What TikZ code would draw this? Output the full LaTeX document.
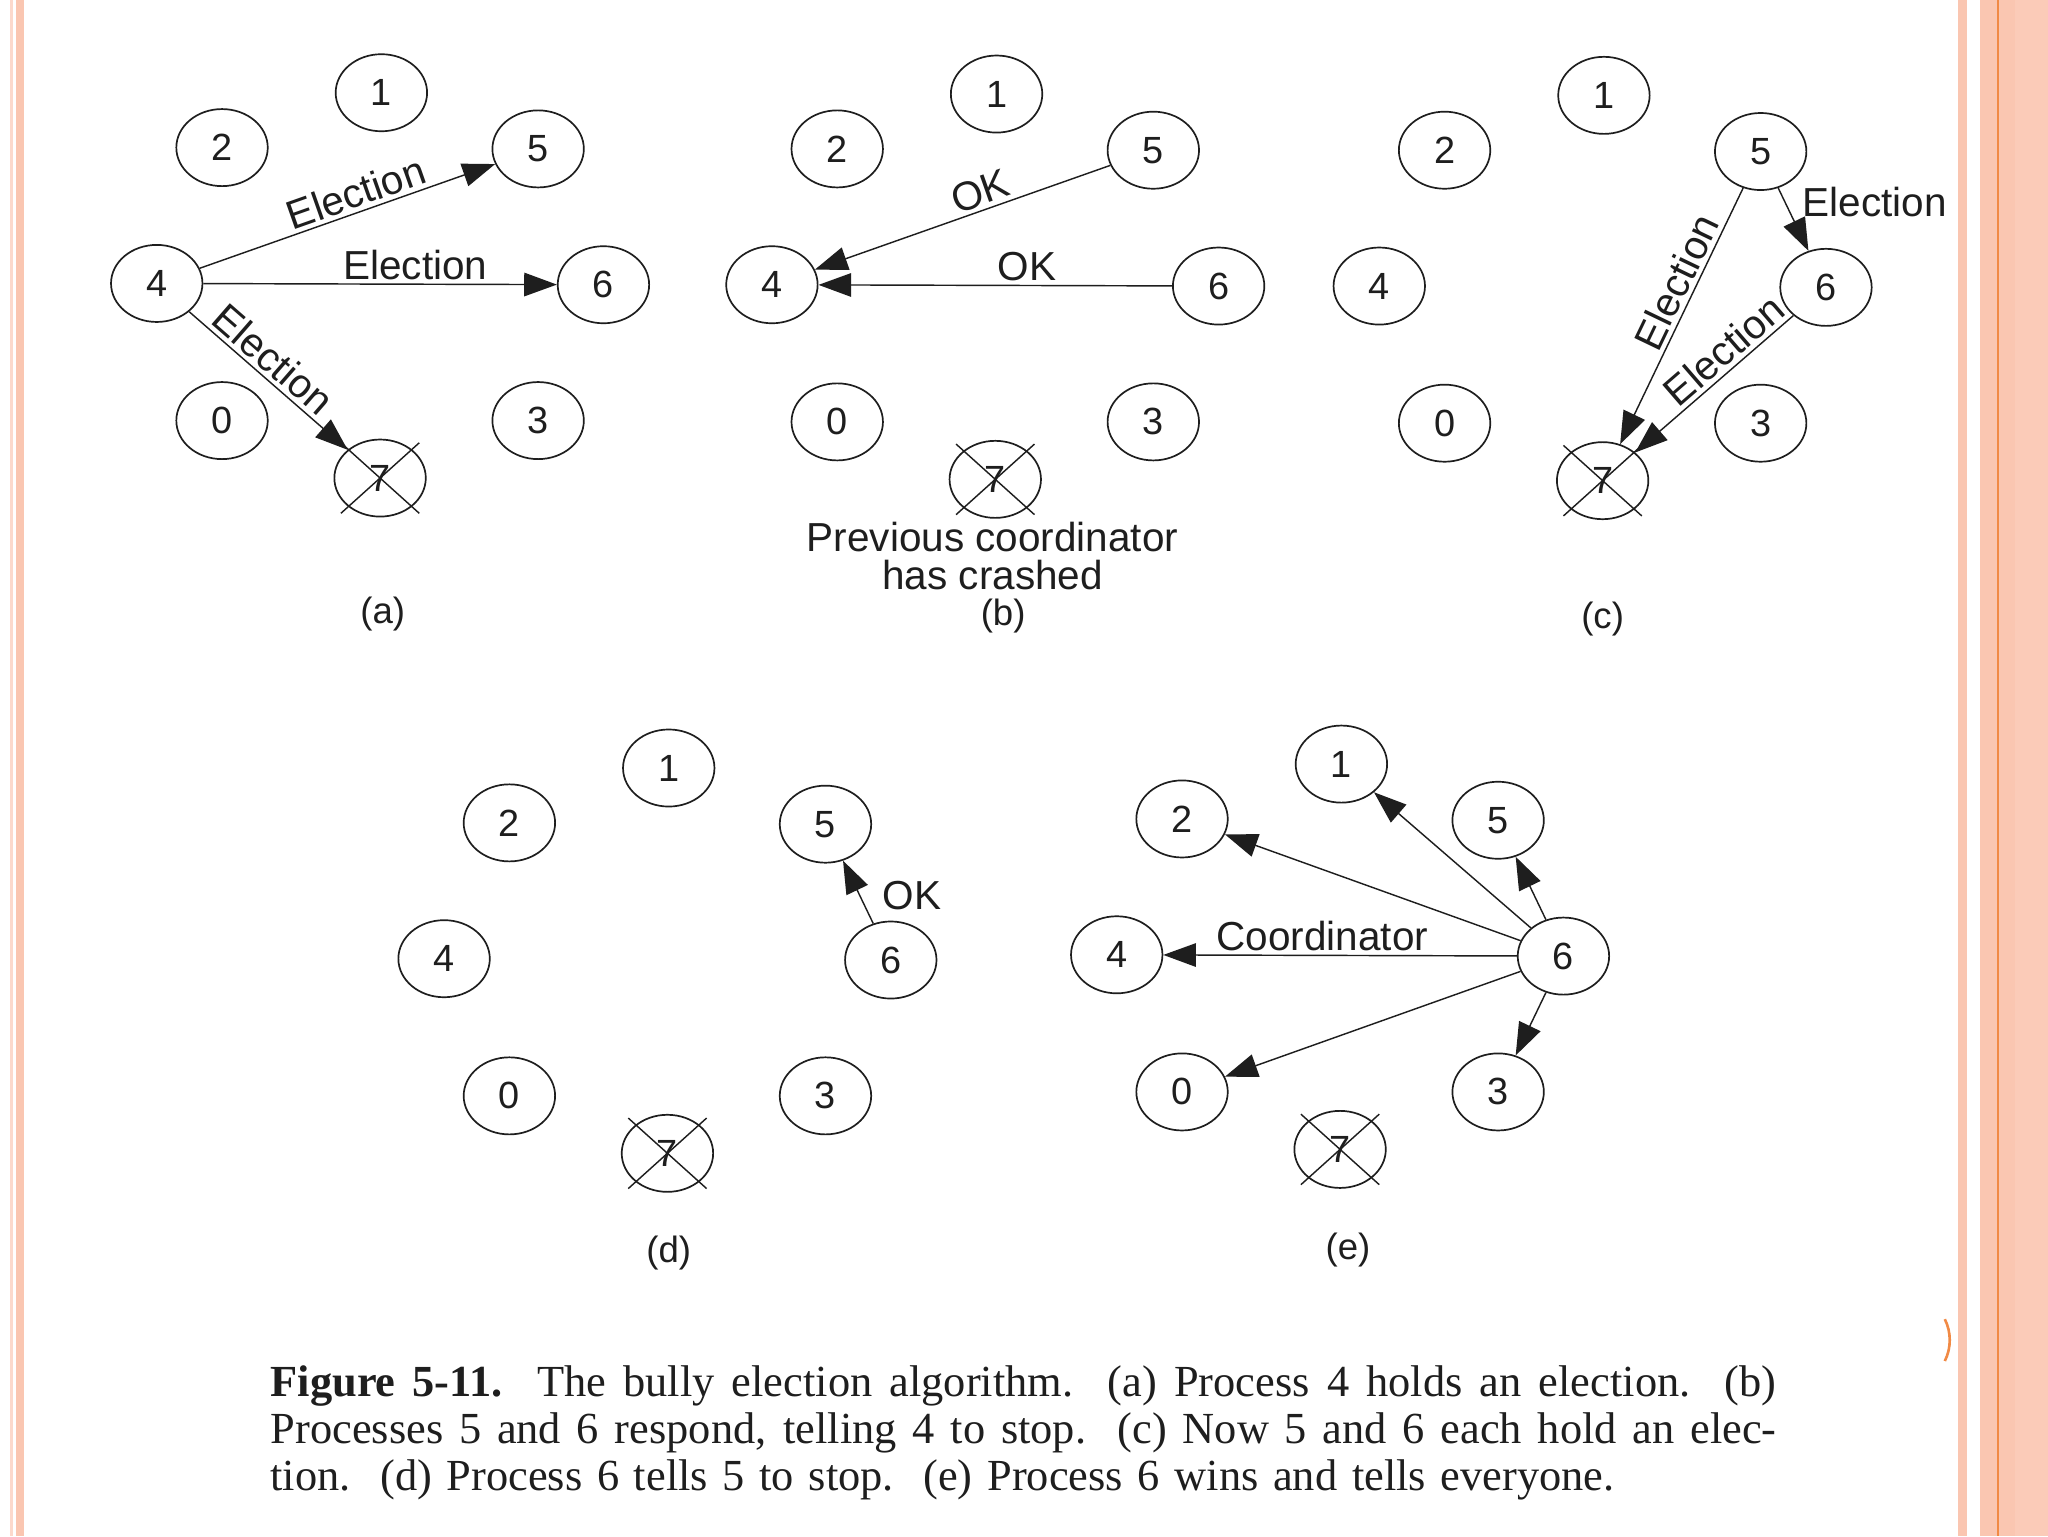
\documentclass[tikz,border=0pt]{standalone}
\usepackage{fontspec}
\setmainfont{Liberation Serif}
\setsansfont{Liberation Sans}
\usetikzlibrary{shapes.geometric,arrows.meta}
\definecolor{stripeA}{HTML}{FCD9CC}
\definecolor{stripeB}{HTML}{FAC6B1}
\definecolor{stripeC}{HTML}{FBCBB8}
\definecolor{orangeline}{HTML}{F18A45}
\definecolor{ink}{HTML}{1E1E1E}
\newcommand\drawpanel[3]{%
\begin{scope}[shift={(#2,#3)}]
\node[proc] (#1-1) at (0,0) {1};
\node[proc] (#1-2) at (-122,42) {2};
\node[proc] (#1-5) at (120,43) {5};
\node[proc] (#1-4) at (-172,146) {4};
\node[proc] (#1-6) at (170,147) {6};
\node[proc] (#1-0) at (-122,251) {0};
\node[proc] (#1-3) at (120,251) {3};
\node[proc] (#1-7) at (-1,295) {7};
\draw[xline] ([shift={(-30,-27)}]#1-7.center) -- ([shift={(30,27)}]#1-7.center);
\draw[xline] ([shift={(30,-27)}]#1-7.center) -- ([shift={(-30,27)}]#1-7.center);
\end{scope}}
\begin{document}
\begin{tikzpicture}[x=1pt,y=-1pt,
 proc/.style={draw=ink, line width=1.3pt, ellipse, minimum width=70pt, minimum height=59pt, inner sep=0pt, font=\sffamily\fontsize{29}{31}\selectfont, text=ink},
 xline/.style={draw=ink, line width=1.1pt},
 msg/.style={draw=ink, line width=1.1pt, -{Triangle[length=25pt,width=18pt]}},
 lbl/.style={font=\sffamily\fontsize{31}{33}\selectfont, text=ink, inner sep=3pt},
 sub/.style={font=\sffamily\fontsize{28}{30}\selectfont, text=ink},
 capline/.style={font=\fontsize{34}{36}\selectfont, text=ink, anchor=base west, inner sep=0pt},
]
\fill[white] (0,0) rectangle (1568,1176);
\useasboundingbox (0,0) rectangle (1568,1176);
% page border stripes
\fill[stripeA] (7.5,0) rectangle (10,1176);
\fill[stripeB] (12,0) rectangle (18.5,1176);
\fill[stripeB] (1499,0) rectangle (1506,1176);
\fill[stripeB] (1516,0) rectangle (1568,1176);
\fill[stripeC] (1543,0) rectangle (1568,1176);
\draw[orangeline, line width=1.6pt] (1530,0) -- (1530,1176);
\draw[orangeline, line width=2pt] (1489,1010) .. controls (1494,1020) and (1494,1032) .. (1489,1042);

% panels
\drawpanel{a}{292}{71}
\drawpanel{b}{763}{72}
\drawpanel{c}{1228}{73}
\drawpanel{d}{512}{588}
\drawpanel{e}{1027}{585}

% (a)
\draw[msg] (a-4) -- node[lbl,sloped,above,pos=0.55]{Election} (a-5);
\draw[msg] (a-4) -- node[lbl,above,pos=0.6]{Election} (a-6);
\draw[msg] (a-4) -- node[lbl,sloped,above,pos=0.45]{Election} (a-7);
\node[sub] (la) at (293,470) {(a)};

% (b)
\draw[msg] (b-5) -- node[lbl,sloped,above,pos=0.42]{OK} (b-4);
\draw[msg] (b-6) -- node[lbl,above,pos=0.41]{OK} (b-4);
\node[lbl, align=center, font=\sffamily\fontsize{31}{29}\selectfont] (prev) at (760,426) {Previous coordinator\\has crashed};
\node[sub] (lb) at (768,472) {(b)};

% (c)
\draw[msg] (c-5) -- node[lbl,pos=0.22,anchor=west,xshift=10pt]{Election} (c-6);
\draw[msg] (c-5) -- node[lbl,sloped,above,pos=0.4]{Election} (c-7);
\draw[msg] (c-6) -- node[lbl,sloped,above,pos=0.36]{Election} (c-7);
\node[sub] (lc) at (1227,474) {(c)};

% (d)
\draw[msg] (d-6) -- node[lbl,pos=0.45,anchor=west,xshift=14pt]{OK} (d-5);
\node[sub] (ld) at (512,959) {(d)};

% (e)
\draw[msg] (e-6) -- (e-2);
\draw[msg] (e-6) -- (e-1);
\draw[msg] (e-6) -- (e-5);
\draw[msg] (e-6) -- node[lbl,above,pos=0.55]{Coordinator} (e-4);
\draw[msg] (e-6) -- (e-0);
\draw[msg] (e-6) -- (e-3);
\node[sub] (le) at (1032,957) {(e)};

% caption
\node[capline] (cap1) at (207,1069) {\makebox[1153pt][s]{\textbf{Figure 5-11.}\ \ The bully election algorithm.\ \ (a) Process 4 holds an election.\ \ (b)}};
\node[capline] (cap2) at (207,1105) {\makebox[1153pt][s]{Processes 5 and 6 respond, telling 4 to stop.\ \ (c) Now 5 and 6 each hold an elec-}};
\node[capline] (cap3) at (207,1141) {\makebox[1029pt][s]{tion.\ \ (d) Process 6 tells 5 to stop.\ \ (e) Process 6 wins and tells everyone.}};
\end{tikzpicture}
\end{document}
